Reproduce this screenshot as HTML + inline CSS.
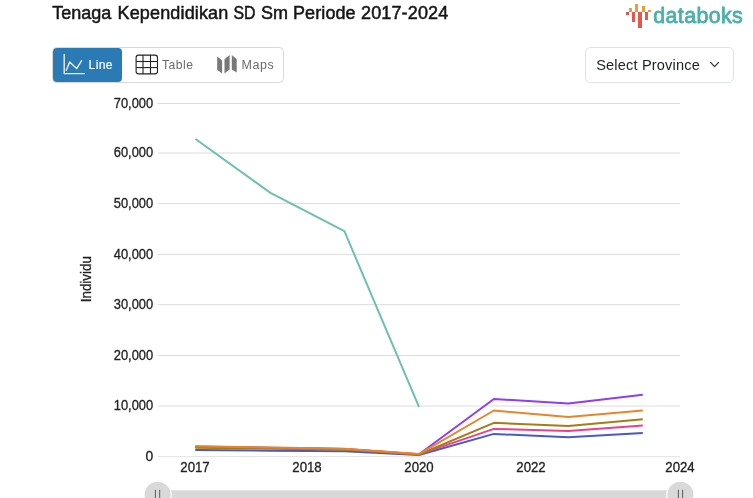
<!DOCTYPE html>
<html lang="id">
<head>
<meta charset="utf-8">
<title>Tenaga Kependidikan SD Sm Periode 2017-2024</title>
<style>
html,body{margin:0;padding:0;background:#fff;}
body{width:753px;height:498px;position:relative;overflow:hidden;font-family:"Liberation Sans",sans-serif;color:#212121;}
.title{position:absolute;left:52px;top:3px;font-size:18px;line-height:22px;color:#1a1a1a;white-space:nowrap;letter-spacing:-0.1px;}
.logo{position:absolute;left:624px;top:0;width:125px;height:32px;}
.tabs{position:absolute;left:52px;top:47px;width:231px;height:35px;border:1px solid #dcdcdc;border-radius:4px;box-sizing:border-box;background:#fff;}
.tab{position:absolute;top:0;height:33px;font-size:13px;line-height:33px;color:#666;white-space:nowrap;}
.tab.active{left:0;top:0;width:69px;height:33px;background:#2b7bb9;border-radius:3px;color:#fff;}
.select{position:absolute;left:585px;top:47px;width:149px;height:35px;border:1px solid #dcdcdc;border-radius:4px;box-sizing:border-box;background:#fff;font-size:14.5px;line-height:33px;color:#222;}
.select span{position:absolute;left:11px;top:0;}
svg{position:absolute;left:0;top:0;}
</style>
</head>
<body>
<svg width="753" height="40" viewBox="0 0 753 40" class="titlesvg">
  <g font-family="Liberation Sans, sans-serif" font-size="18" fill="#151515" stroke="#151515" stroke-width="0.5">
    <text x="52.2" y="19.4">Tenaga</text>
    <text x="117.5" y="19.4" textLength="110.8" lengthAdjust="spacing">Kependidikan</text>
    <text x="233.4" y="19.4" textLength="22" lengthAdjust="spacingAndGlyphs">SD</text>
    <text x="261" y="19.4">Sm</text>
    <text x="293" y="19.4" textLength="62.6" lengthAdjust="spacing">Periode</text>
    <text x="361" y="19.4" textLength="87.2" lengthAdjust="spacing">2017-2024</text>
  </g>
</svg>

<svg class="logo" viewBox="0 0 125 32" width="125" height="32">
  <g shape-rendering="crispEdges">
    <rect x="2" y="12" width="3" height="3" fill="#e8554d"/>
    <rect x="5" y="8" width="3" height="4" fill="#ee9a3a"/>
    <rect x="8" y="12" width="3" height="10" fill="#e8554d"/>
    <rect x="11" y="4" width="3" height="8" fill="#ee9a3a"/>
    <rect x="14" y="12" width="4" height="16" fill="#e8554d"/>
    <rect x="18" y="6" width="3" height="6" fill="#ee9a3a"/>
    <rect x="21" y="12" width="3" height="8" fill="#e8554d"/>
    <rect x="24" y="10" width="3" height="2" fill="#ee9a3a"/>
  </g>
  <text x="29.3" y="23.2" font-family="Liberation Sans, sans-serif" font-size="21.4" fill="#4bb0ac" stroke="#4bb0ac" stroke-width="0.8" textLength="89.5" lengthAdjust="spacing">databoks</text>
</svg>

<svg width="753" height="95" viewBox="0 0 753 95" class="controls">
  <!-- tab group -->
  <rect x="52.5" y="47.5" width="231" height="35" rx="4" ry="4" fill="#fff" stroke="#d9d9d9" stroke-width="1"/>
  <rect x="53" y="48" width="69" height="34" rx="4" ry="4" fill="#2a7ab6"/>
  <!-- line icon -->
  <g fill="none" stroke="#ececec" stroke-width="1.4" stroke-linecap="round" stroke-linejoin="round">
    <polyline points="64.2,54.5 64.2,73.6 84.4,73.6"/>
    <polyline points="66.3,70.3 69.7,62 76.6,68.6 81.5,60.8"/>
  </g>
  <text x="88.6" y="68.6" font-family="Liberation Sans, sans-serif" font-size="12.2" fill="#fff" stroke="#fff" stroke-width="0.12" textLength="24" lengthAdjust="spacing">Line</text>
  <!-- table icon -->
  <g fill="none" stroke="#222" stroke-width="1.1">
    <rect x="136.1" y="55.1" width="21.4" height="18.8" rx="2.6" ry="2.6"/>
    <line x1="143" x2="143" y1="55.1" y2="73.9"/>
    <line x1="150.5" x2="150.5" y1="55.1" y2="73.9"/>
    <line x1="136.1" x2="157.5" y1="61.5" y2="61.5"/>
    <line x1="136.1" x2="157.5" y1="67.6" y2="67.6"/>
  </g>
  <text x="162" y="68.6" font-family="Liberation Sans, sans-serif" font-size="12.2" fill="#6a6a6a" textLength="31" lengthAdjust="spacing">Table</text>
  <!-- maps icon -->
  <g fill="#787878">
    <polygon points="217.2,56.5 222.1,60.4 222.1,73.6 217.2,69.7"/>
    <polygon points="224.5,59.3 229.6,55.1 229.6,69.4 224.5,73.6"/>
    <polygon points="231.8,55.1 236.7,59.3 236.7,72.5 231.8,69.4"/>
  </g>
  <text x="241.4" y="68.6" font-family="Liberation Sans, sans-serif" font-size="12.5" fill="#6a6a6a" textLength="32.4" lengthAdjust="spacing">Maps</text>
  <!-- select -->
  <rect x="585.5" y="47.5" width="148" height="35" rx="5" ry="5" fill="#fff" stroke="#dee2e6" stroke-width="1"/>
  <text x="596.2" y="69.8" font-family="Liberation Sans, sans-serif" font-size="14.6" fill="#212529" textLength="103.6" lengthAdjust="spacing">Select Province</text>
  <polyline points="710.6,62.4 714.6,66.6 718.6,62.4" fill="none" stroke="#343a40" stroke-width="1.3" stroke-linecap="round" stroke-linejoin="round"/>
</svg>

<svg width="753" height="498" viewBox="0 0 753 498">
  <!-- gridlines -->
  <g stroke="#dcdcdc" stroke-width="1">
    <line x1="157.7" x2="680" y1="103.5" y2="103.5"/>
    <line x1="157.7" x2="680" y1="153.0" y2="153.0"/>
    <line x1="157.7" x2="680" y1="203.6" y2="203.6"/>
    <line x1="157.7" x2="680" y1="254.3" y2="254.3"/>
    <line x1="157.7" x2="680" y1="304.7" y2="304.7"/>
    <line x1="157.7" x2="680" y1="355.5" y2="355.5"/>
    <line x1="157.7" x2="680" y1="406.0" y2="406.0"/>
    <line x1="157.7" x2="680" y1="456.5" y2="456.5" stroke="#e6e6e6"/>
  </g>
  <g font-family="Liberation Sans, sans-serif" font-size="13.8" fill="#222" stroke="#222" stroke-width="0.3" text-anchor="end">
    <text x="153.2" y="107.7" textLength="39.4" lengthAdjust="spacingAndGlyphs">70,000</text>
    <text x="153.2" y="157.2" textLength="39.4" lengthAdjust="spacingAndGlyphs">60,000</text>
    <text x="153.2" y="207.8" textLength="39.4" lengthAdjust="spacingAndGlyphs">50,000</text>
    <text x="153.2" y="258.5" textLength="39.4" lengthAdjust="spacingAndGlyphs">40,000</text>
    <text x="153.2" y="308.9" textLength="39.4" lengthAdjust="spacingAndGlyphs">30,000</text>
    <text x="153.2" y="359.7" textLength="39.4" lengthAdjust="spacingAndGlyphs">20,000</text>
    <text x="153.2" y="410.2" textLength="39.4" lengthAdjust="spacingAndGlyphs">10,000</text>
    <text x="153.2" y="460.7">0</text>
  </g>
  <g font-family="Liberation Sans, sans-serif" font-size="13.8" fill="#222" stroke="#222" stroke-width="0.3" text-anchor="middle">
    <text x="195" y="471.7" textLength="29.4" lengthAdjust="spacingAndGlyphs">2017</text>
    <text x="307" y="471.7" textLength="29.4" lengthAdjust="spacingAndGlyphs">2018</text>
    <text x="419" y="471.7" textLength="29.4" lengthAdjust="spacingAndGlyphs">2020</text>
    <text x="531" y="471.7" textLength="29.4" lengthAdjust="spacingAndGlyphs">2022</text>
    <text x="680" y="471.7" textLength="29.4" lengthAdjust="spacingAndGlyphs">2024</text>
  </g>
  <text transform="translate(91.1,279.2) rotate(-90)" font-family="Liberation Sans, sans-serif" font-size="14" fill="#222" stroke="#222" stroke-width="0.3" text-anchor="middle" textLength="46.2" lengthAdjust="spacingAndGlyphs">Individu</text>

  <g fill="none" stroke-width="2" stroke-linejoin="round">
    <polyline stroke="#6cc1ab" points="195.5,139 270.5,192.9 344.4,231.2 419,406.8"/>
    <polyline stroke="#475ac8" points="195.3,449.9 270,450.7 344.4,451.2 419,455 493.9,433.9 568.3,437.3 642.8,433"/>
    <polyline stroke="#ee3f8d" points="195.3,446.9 270,448 344.4,449.1 419,454.4 493.9,428.9 568.3,430.9 642.8,425.5"/>
    <polyline stroke="#8f3df0" points="195.3,446.6 270,447.8 344.4,448.9 419,454.2 493.9,399 568.3,403.6 642.8,394.7"/>
    <polyline stroke="#a67c14" points="195.3,447.7 270,448.7 344.4,449.6 419,454.5 493.9,422.8 568.3,426.1 642.8,419.2"/>
    <polyline stroke="#e8852b" points="195.3,446.2 270,447.5 344.4,448.7 419,454.1 493.9,410.5 568.3,416.9 642.8,410.6"/>
  </g>

  <!-- scrollbar -->
  <rect x="157" y="490.3" width="523" height="10" fill="#d9d9d9"/>
  <circle cx="157.6" cy="494.7" r="13.6" fill="#d9d9d9" stroke="#fff" stroke-width="1.2"/>
  <circle cx="680.4" cy="494.7" r="13.6" fill="#d9d9d9" stroke="#fff" stroke-width="1.2"/>
  <g stroke="#4d4d4d" stroke-width="0.9">
    <line x1="155.4" x2="155.4" y1="489.8" y2="498"/>
    <line x1="159.7" x2="159.7" y1="489.8" y2="498"/>
    <line x1="678.4" x2="678.4" y1="489.8" y2="498"/>
    <line x1="682.6" x2="682.6" y1="489.8" y2="498"/>
  </g>
</svg>
</body>
</html>
